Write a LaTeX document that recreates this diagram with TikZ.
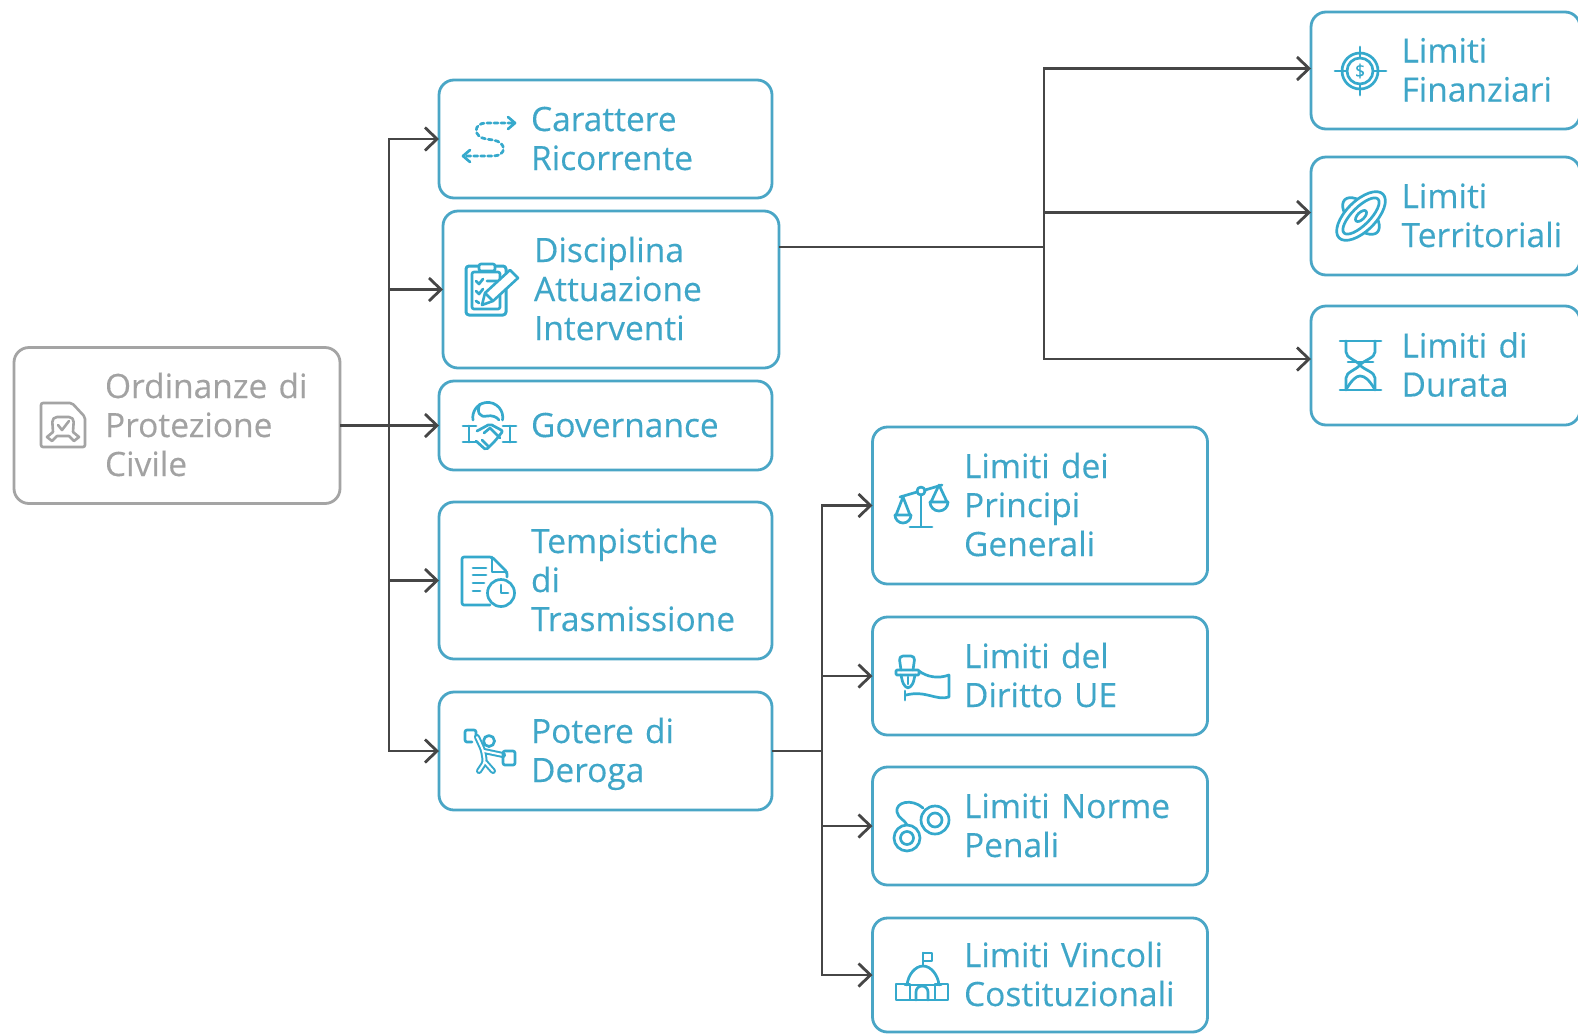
\documentclass[tikz,border=0pt]{standalone}
\usepackage{fontspec}
\setmainfont[FakeBold=0.25]{Open Sans}
\usetikzlibrary{arrows.meta}
\definecolor{bluetxt}{HTML}{3FA6C8}
\definecolor{blueln}{HTML}{4AA6C6}
\definecolor{icblue}{HTML}{35A9CC}
\definecolor{graytxt}{HTML}{A2A2A2}
\definecolor{grayln}{HTML}{A4A4A4}
\definecolor{connc}{HTML}{464646}
\newcommand{\fstln}{\rule{0pt}{34.7pt}}
\newcommand{\lstln}{\rule[-11.7pt]{0pt}{11.7pt}}
\newcommand{\inA}{\hspace*{92pt}}
\newcommand{\inB}{\hspace*{91pt}}
\newcommand{\inC}{\hspace*{90.5pt}}
\newcommand{\inD}{\hspace*{91.5pt}}
\tikzset{
  x=1pt,y=-1pt,
  boxbase/.style={rectangle,rounded corners=15pt,line width=2.8pt,fill=white,inner sep=0pt,outer sep=0pt,align=left,
    font=\fontsize{33.5}{39}\selectfont},
  bluebox/.style={boxbase,draw=blueln,text=bluetxt},
  graybox/.style={boxbase,draw=grayln,text=graytxt},
  conn/.style={draw=connc,line width=2.8pt},
  arr/.style={conn,-{Straight Barb[length=12pt,width=23pt,line width=2.8pt]}},
  ic/.style={draw=icblue,line width=2.7pt,line cap=round,line join=round},
  gi/.style={draw=grayln,line width=2.6pt,line cap=round,line join=round},
}
\begin{document}
\begin{tikzpicture}
\useasboundingbox (0,0) rectangle (1578,1034);
\fill[white] (0,0) rectangle (1578,1034);
% nodes
\node[graybox,minimum width=326pt,minimum height=156pt,text width=326pt] (root) at (177,425.5) {\inB\fstln Ordinanze di\\\inB Protezione\\\inB Civile\lstln};
\node[bluebox,minimum width=333pt,minimum height=118pt,text width=333pt] (car) at (605.5,139) {\inA\fstln Carattere\\\inA Ricorrente\lstln};
\node[bluebox,minimum width=336pt,minimum height=157pt,text width=336pt] (dis) at (611,289.5) {\inB\fstln Disciplina\\\inB Attuazione\\\inB Interventi\lstln};
\node[bluebox,minimum width=333pt,minimum height=89pt,text width=333pt] (gov) at (605.5,425.5) {\inA\fstln Governance\lstln};
\node[bluebox,minimum width=333pt,minimum height=157pt,text width=333pt] (tem) at (605.5,580.5) {\inA\fstln Tempistiche\\\inA di\\\inA Trasmissione\lstln};
\node[bluebox,minimum width=333pt,minimum height=118pt,text width=333pt] (pot) at (605.5,751) {\inA\fstln Potere di\\\inA Deroga\lstln};
\node[bluebox,minimum width=269pt,minimum height=117pt,text width=269pt] (fin) at (1445.5,70.5) {\inC\fstln Limiti\\\inC Finanziari\lstln};
\node[bluebox,minimum width=269pt,minimum height=118pt,text width=269pt] (ter) at (1445.5,216) {\inC\fstln Limiti\\\inC Territoriali\lstln};
\node[bluebox,minimum width=269pt,minimum height=119pt,text width=269pt] (dur) at (1445.5,365.5) {\inC\fstln Limiti di\\\inC Durata\lstln};
\node[bluebox,minimum width=335pt,minimum height=157pt,text width=335pt] (pri) at (1040,505.5) {\inD\fstln Limiti dei\\\inD Principi\\\inD Generali\lstln};
\node[bluebox,minimum width=335pt,minimum height=118pt,text width=335pt] (dir) at (1040,676) {\inD\fstln Limiti del\\\inD Diritto UE\lstln};
\node[bluebox,minimum width=335pt,minimum height=118pt,text width=335pt] (pen) at (1040,826) {\inD\fstln Limiti Norme\\\inD Penali\lstln};
\node[bluebox,minimum width=335pt,minimum height=114pt,text width=335pt] (cos) at (1040,975) {\inD\fstln Limiti Vincoli\\\inD Costituzionali\lstln};
% junctions
\coordinate (j1) at (389,425.5);
\coordinate (j2a) at (1044,247);
\coordinate (j2b) at (779,247);
\coordinate (j3) at (822,751);
\coordinate (afin) at (1311,68.5);
\coordinate (ater) at (1311,212.5);
\coordinate (adur) at (1311,359);
% connectors
\draw[conn] (root.east) -- (j1);
\draw[arr] (j1) |- (car.west);
\draw[arr] (j1) |- (dis.west);
\draw[arr] (j1) -- (gov.west);
\draw[arr] (j1) |- (tem.west);
\draw[arr] (j1) |- (pot.west);
\draw[conn] (j2b) -- (j2a);
\draw[arr] (j2a) |- (afin);
\draw[arr] (j2a) |- (ater);
\draw[arr] (j2a) |- (adur);
\draw[conn] (pot.east) -- (j3);
\draw[arr] (j3) |- (pri.west);
\draw[arr] (j3) |- (dir.west);
\draw[arr] (j3) |- (pen.west);
\draw[arr] (j3) |- (cos.west);
% icon: root
\draw[gi,rounded corners=2pt] (41,403) -- (72,403) -- (85,417) -- (85,447) -- (41,447) -- cycle;
\draw[gi,rounded corners=5pt] (53,432) -- (52,417) -- (74,417) -- (73,432);
\draw[gi] (58,425) -- (62,430) -- (69,421);
\draw[gi] (53,432) -- (47,437) -- (52,441) -- (57,436) -- (69,436) -- (74,441) -- (79,437) -- (73,432);
% icon: carattere
\draw[ic,dash pattern=on 4pt off 3pt] (512,123) -- (486,123) .. controls (473,123) and (473,137) .. (486,139) -- (493,140) .. controls (507,142) and (507,156) .. (493,156) -- (465,156);
\draw[ic] (508,117) -- (515,123) -- (508,129);
\draw[ic] (470,150) -- (463,156) -- (470,162);
% icon: disciplina
\draw[ic,line width=3pt,rounded corners=3pt] (506,285) -- (506,315) -- (466,315) -- (466,266) -- (506,266) -- (506,276);
\draw[ic,rounded corners=2pt] (500,290) -- (500,309) -- (472,309) -- (472,272) -- (500,272) -- (500,280);
\draw[ic,fill=white,rounded corners=2pt] (479,264) rectangle (495,271);
\draw[ic] (476,281) -- (479,284) -- (483,279) (487,281) -- (497,281);
\draw[ic] (476,291) -- (479,294) -- (483,289) (487,291) -- (492,291);
\draw[ic] (476,301) -- (479,303);
\draw[ic,fill=white,line width=2.6pt] (482,305) -- (485,293) -- (510,270) -- (518,278) -- (493,301) -- cycle;
\draw[ic] (485,293) -- (493,301);
% icon: governance
\draw[ic] (473,420) arc[start angle=190,end angle=-10,radius=15pt];
\draw[ic] (480,404) .. controls (476,412) and (480,418) .. (487,416) .. controls (492,415) and (497,417) .. (499,420);
\draw[ic] (463,426) -- (476,426) (469,426) -- (469,442) (463,442) -- (476,442);
\draw[ic] (503,426) -- (516,426) (510,426) -- (510,442) (503,442) -- (516,442);
\draw[ic,rounded corners=2pt] (477,431) -- (490,424) -- (503,431) -- (495,441) -- (486,450) -- (476,441);
\draw[ic] (484,433) -- (490,428) -- (500,438) (482,440) -- (488,446);
% icon: tempistiche
\draw[ic,rounded corners=2pt] (490,605) -- (462,605) -- (462,557) -- (492,557) -- (507,572) -- (507,577);
\draw[ic] (492,557) -- (492,572) -- (507,572);
\draw[ic] (473,568) -- (486,568) (473,575) -- (486,575) (473,583) -- (484,583) (473,591) -- (480,591);
\draw[ic,fill=white] (501,593) circle[radius=13.5pt];
\draw[ic] (501,585) -- (501,593) -- (508,593);
% icon: potere
\draw[ic,rounded corners=2pt] (472,742) -- (465,742) -- (465,730) -- (476,730) -- (476,738);
\draw[ic] (489,741) circle[radius=5.5pt];
\draw[ic,line width=6pt,rounded corners=3pt] (477,737) -- (483,750) -- (485,762) -- (479,771);
\draw[ic,line width=6pt] (485,762) -- (493,771);
\draw[ic,line width=6pt] (484,751) -- (503,755);
\draw[draw=white,line width=2pt,rounded corners=3pt,line cap=round] (477,737) -- (483,750) -- (485,762) -- (479,771);
\draw[draw=white,line width=2pt,line cap=round] (485,762) -- (493,771);
\draw[draw=white,line width=2pt,line cap=round] (484,751) -- (503,755);
\draw[ic,rounded corners=2pt] (503,751) rectangle (515,765);
% icon: target
\draw[ic] (1360,71) circle[radius=18pt];
\draw[ic] (1360,71) circle[radius=13pt];
\draw[ic] (1335,71) -- (1347,71) (1373,71) -- (1386,71) (1360,47) -- (1360,58) (1360,84) -- (1360,95);
\node[text=icblue,inner sep=0pt,font=\fontsize{18}{18}\selectfont] (dollar) at (1360,71) {\$};
% icon: pad
\begin{scope}[rotate around={45:(1361,216)}]
\draw[ic] (1361,216) ellipse[x radius=12pt,y radius=23pt];
\draw[ic,fill=white] (1361,216) ellipse[x radius=31pt,y radius=15pt];
\draw[ic] (1361,216) ellipse[x radius=24pt,y radius=9pt];
\draw[ic] (1361,216) ellipse[x radius=7pt,y radius=3.5pt];
\end{scope}
% icon: hourglass
\draw[ic] (1340,341) -- (1381,341) (1340,390) -- (1381,390);
\draw[ic] (1346,341) -- (1346,352) .. controls (1346,358) and (1356,360) .. (1360,365) .. controls (1364,360) and (1375,358) .. (1375,352) -- (1375,341);
\draw[ic] (1346,390) -- (1346,378) .. controls (1346,372) and (1356,370) .. (1360,365) .. controls (1364,370) and (1375,372) .. (1375,378) -- (1375,390);
\draw[ic] (1348,362) -- (1373,362);
\draw[ic] (1347,388) .. controls (1352,380) and (1356,376) .. (1360,376) .. controls (1365,376) and (1369,380) .. (1374,388);
% icon: scales
\draw[ic] (921,495) -- (921,526) (910,527) -- (932,527);
\draw[ic] (900,497) -- (917,492) (925,490) -- (942,485);
\draw[ic] (921,491) circle[radius=4pt];
\draw[ic] (903,497) -- (896,515) (903,497) -- (910,515) (895,515) -- (911,515);
\draw[ic] (895,515) arc[start angle=180,end angle=360,radius=8pt];
\draw[ic] (939,485) -- (931,502) (939,485) -- (947,502) (930,502) -- (948,502);
\draw[ic] (930,502) arc[start angle=180,end angle=360,radius=9pt];
% icon: hand
\draw[ic,rounded corners=4pt] (901,670) -- (899,656) -- (915,656) -- (913,670);
\draw[ic,rounded corners=1pt] (896,670) rectangle (919,675);
\draw[ic,rounded corners=3pt] (901,675) -- (903,684) -- (908,689) -- (913,684) -- (915,675);
\draw[ic] (908,677) -- (908,684);
\draw[ic] (919,671) .. controls (927,677) and (938,679) .. (949,675) -- (949,697) .. controls (936,701) and (926,690) .. (906,695);
\draw[ic] (905,691) -- (905,700);
% icon: handcuffs
\draw[ic] (935,820) circle[radius=14pt];
\draw[ic] (935,820) circle[radius=7pt];
\draw[ic] (907,838) circle[radius=13pt];
\draw[ic] (907,838) circle[radius=6.5pt];
\draw[ic] (923,808) .. controls (912,798) and (895,802) .. (897,812) .. controls (898,818) and (905,820) .. (907,825);
% icon: building
\draw[ic] (923,966) -- (923,953);
\draw[ic] (923,953) rectangle (932,961);
\draw[ic] (907,985) .. controls (908,975) and (915,966) .. (923,966) .. controls (931,966) and (938,975) .. (939,985);
\draw[ic] (905,985) -- (941,985);
\draw[ic] (896,984) rectangle (910,1000);
\draw[ic] (935,984) rectangle (948,1000);
\draw[ic] (910,1000) -- (935,1000);
\draw[ic] (916,1000) -- (916,992) arc[start angle=180,end angle=0,radius=6pt] -- (928,1000);
\end{tikzpicture}
\end{document}
